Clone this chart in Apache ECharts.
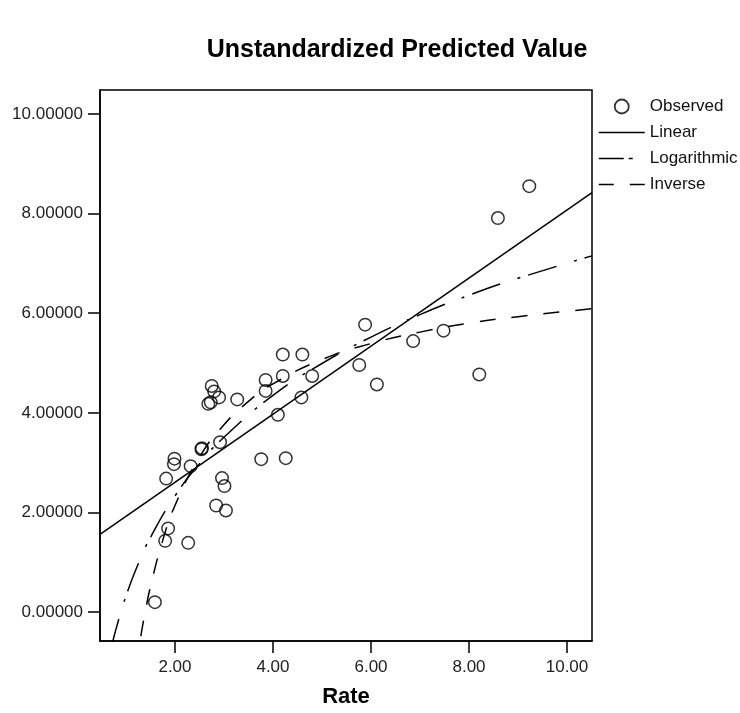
<!DOCTYPE html>
<html>
<head>
<meta charset="utf-8">
<script src="https://cdn.jsdelivr.net/npm/echarts@6/dist/echarts.min.js"></script>
<style>html,body{margin:0;padding:0;background:#fff;}#c{width:740px;height:713px;}</style>
</head>
<body>
<div id="c"></div>
<script>
// Observed points (Rate, Unstandardized Predicted Value)
const rate = [9.23, 8.59, 8.21, 7.48, 6.86, 5.88, 5.76, 6.12, 4.60, 4.20, 4.20, 4.80, 4.58, 3.85, 3.85, 4.10, 3.27, 2.75, 2.80, 2.90, 2.68, 2.73, 2.92, 2.54, 2.55, 2.32, 1.99, 1.98, 1.82, 2.96, 3.01, 3.76, 4.26, 2.84, 3.04, 1.86, 1.80, 2.27, 1.59];
const predicted = [8.55, 7.91, 4.77, 5.65, 5.44, 5.77, 4.96, 4.57, 5.17, 5.17, 4.74, 4.74, 4.31, 4.66, 4.44, 3.96, 4.27, 4.54, 4.43, 4.31, 4.18, 4.21, 3.41, 3.27, 3.29, 2.93, 3.08, 2.97, 2.68, 2.69, 2.53, 3.07, 3.09, 2.14, 2.04, 1.68, 1.43, 1.39, 0.20];

// Fitted curves
const linearX = [0.47, 10.51];
const linearY = [1.56, 8.42];
const logX = [0.7, 0.8, 1.0, 1.25, 1.5, 2, 2.5, 3, 4, 5, 6, 7, 8, 9, 10.51];
const logY = [-0.72, -0.33, 0.32, 0.97, 1.50, 2.33, 2.98, 3.51, 4.35, 4.99, 5.52, 5.97, 6.36, 6.70, 7.15];
const invX = [1.2, 1.3, 1.4, 1.5, 1.75, 2, 2.5, 3, 3.5, 4, 5, 6, 7, 8, 9, 10.51];
const invY = [-1.12, -0.50, 0.04, 0.51, 1.44, 2.14, 3.11, 3.76, 4.23, 4.58, 5.07, 5.39, 5.62, 5.80, 5.93, 6.09];

const xTicks = [2, 4, 6, 8, 10];
const yTicks = [0, 2, 4, 6, 8, 10];
const seriesNames = ['Observed', 'Linear', 'Logarithmic', 'Inverse'];

const zip = (a, b) => a.map((v, i) => [v, b[i]]);
const FONT = 'Liberation Sans, Arial, sans-serif';

const chart = echarts.init(document.getElementById('c'), null, {renderer: 'canvas'});
chart.setOption({
  backgroundColor: '#fff',
  animation: false,
  textStyle: {fontFamily: FONT},
  title: {
    text: 'Unstandardized Predicted Value',
    left: 392, top: 33, textAlign: 'center',
    textStyle: {fontFamily: FONT, fontSize: 25, fontWeight: 'bold', color: '#000'}
  },
  legend: {
    orient: 'vertical', left: 598, top: 98, padding: 0,
    itemWidth: 46, itemHeight: 14, itemGap: 9,
    textStyle: {fontFamily: FONT, fontSize: 17, color: '#111'},
    data: [
      {name: seriesNames[0], icon: 'circle', itemStyle: {color: 'transparent', borderColor: '#000', borderWidth: 1.8}},
      {name: seriesNames[1], itemStyle: {opacity: 0}, lineStyle: {type: 'solid', width: 1.5, color: '#000'}},
      {name: seriesNames[2], itemStyle: {opacity: 0}, lineStyle: {type: [25, 5, 4, 20], width: 1.5, color: '#000'}},
      {name: seriesNames[3], itemStyle: {opacity: 0}, lineStyle: {type: [15, 16], width: 1.5, color: '#000'}}
    ]
  },
  grid: {left: 100, right: 148, top: 90, bottom: 69, show: true, borderColor: '#000', borderWidth: 1.5, backgroundColor: 'transparent'},
  xAxis: {
    type: 'value', min: 0.47, max: 10.51,
    name: 'Rate', nameLocation: 'middle', nameGap: 45,
    nameTextStyle: {fontFamily: FONT, fontSize: 22, fontWeight: 'bold', color: '#000'},
    axisLine: {show: true, onZero: false, lineStyle: {color: '#000', width: 1.5}},
    axisTick: {show: true, length: 12, customValues: xTicks, lineStyle: {color: '#000', width: 1.5}},
    axisLabel: {customValues: xTicks, margin: 18, fontSize: 17, color: '#222', fontFamily: FONT,
      formatter: v => v.toFixed(2)},
    splitLine: {show: false}
  },
  yAxis: {
    type: 'value', min: -0.58, max: 10.48,
    axisLine: {show: true, onZero: false, lineStyle: {color: '#000', width: 1.5}},
    axisTick: {show: true, length: 12, customValues: yTicks, lineStyle: {color: '#000', width: 1.5}},
    axisLabel: {customValues: yTicks, margin: 17, fontSize: 17, color: '#222', fontFamily: FONT,
      formatter: v => v.toFixed(5)},
    splitLine: {show: false}
  },
  series: [
    {
      name: seriesNames[0], type: 'scatter', data: zip(rate, predicted),
      symbol: 'circle', symbolSize: 12.5,
      itemStyle: {color: 'transparent', borderColor: '#000', borderWidth: 1.5}, z: 5
    },
    {
      name: seriesNames[1], type: 'line', data: zip(linearX, linearY),
      symbol: 'none', lineStyle: {color: '#000', width: 1.5, type: 'solid'}, clip: true
    },
    {
      name: seriesNames[2], type: 'line', data: zip(logX, logY), smooth: true,
      symbol: 'none', lineStyle: {color: '#000', width: 1.5, type: [30, 18, 3, 8]}, clip: true
    },
    {
      name: seriesNames[3], type: 'line', data: zip(invX, invY), smooth: true,
      symbol: 'none', lineStyle: {color: '#000', width: 1.5, type: [16, 16]}, clip: true
    }
  ]
});
</script>
</body>
</html>
